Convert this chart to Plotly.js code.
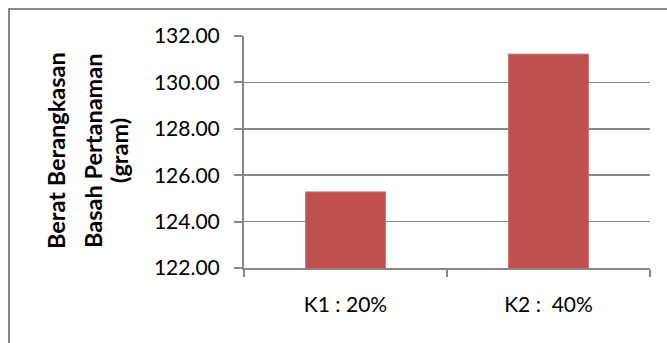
<!DOCTYPE html>
<html>
<head>
<meta charset="utf-8">
<script src="https://cdn.plot.ly/plotly-3.0.1.min.js"></script>
<style>
  html, body { margin: 0; padding: 0; background: #ffffff; }
  #chart { width: 667px; height: 343px; }
</style>
</head>
<body>
<div id="chart"></div>
<script>
// Treatment levels and mean fresh weight of the plant (gram)
const categories = ['K1 : 20%', 'K2 :  40%'];
const beratBasah = [125.28, 131.22];
const yTickValues = [122, 124, 126, 128, 130, 132];
const yTickLabels = ['122.00', '124.00', '126.00', '128.00', '130.00', '132.00'];
const yTitleLines = ['Berat Berangkasan', 'Basah Pertanaman', '(gram)'];

const W = 667, H = 343;
const margin = { l: 244, r: 17, t: 36, b: 75 };
const plotW = W - margin.l - margin.r;
const plotH = H - margin.t - margin.b;
const px2x = p => (p - margin.l) / plotW;   // pixel column -> paper x
const px2y = p => (H - margin.b - p) / plotH; // pixel row -> paper y

const axisGray = '#878787';
const font = 'Lato, "Open Sans", sans-serif';

const trace = {
  type: 'bar',
  x: categories,
  y: beratBasah,
  marker: { color: '#C0504D', line: { color: '#D07673', width: 1 } },
  hoverinfo: 'x+y'
};

// the three stacked title lines at the left, rotated
const titleX = [56, 93, 119];
const annotations = yTitleLines.map((t, i) => ({
  text: '<b>' + t + '</b>',
  xref: 'paper', yref: 'paper',
  x: px2x(titleX[i]), y: px2y(151),
  xanchor: 'center', yanchor: 'middle',
  textangle: -90,
  showarrow: false,
  font: { family: font, size: 23.5, color: '#000000' }
}));

const layout = {
  width: W, height: H,
  margin: margin,
  paper_bgcolor: '#ffffff',
  plot_bgcolor: '#ffffff',
  showlegend: false,
  bargap: 0.606,
  font: { family: font, color: '#000000' },
  xaxis: {
    type: 'category',
    showgrid: false,
    showline: true, linecolor: axisGray, linewidth: 2,
    ticks: 'outside', tickson: 'boundaries', ticklen: 7, tickwidth: 2, tickcolor: axisGray,
    ticklabelstandoff: 17,
    tickfont: { family: font, size: 21, color: '#000000' },
    zeroline: false
  },
  yaxis: {
    range: [122, 132],
    tickvals: yTickValues,
    ticktext: yTickLabels,
    showgrid: true, gridcolor: axisGray, gridwidth: 1.5,
    showline: true, linecolor: axisGray, linewidth: 2,
    ticks: 'outside', ticklen: 8, tickwidth: 2, tickcolor: axisGray,
    ticklabelstandoff: 10,
    tickfont: { family: font, size: 21, color: '#000000' },
    zeroline: false
  },
  annotations: annotations,
  shapes: [{
    type: 'rect', xref: 'paper', yref: 'paper',
    x0: px2x(9), x1: px2x(W + 20),
    y0: px2y(H + 20), y1: px2y(9),
    line: { color: '#888888', width: 2 },
    fillcolor: 'rgba(0,0,0,0)',
    layer: 'below'
  }]
};

Plotly.newPlot('chart', [trace], layout, { displayModeBar: false, staticPlot: true });
</script>
</body>
</html>
